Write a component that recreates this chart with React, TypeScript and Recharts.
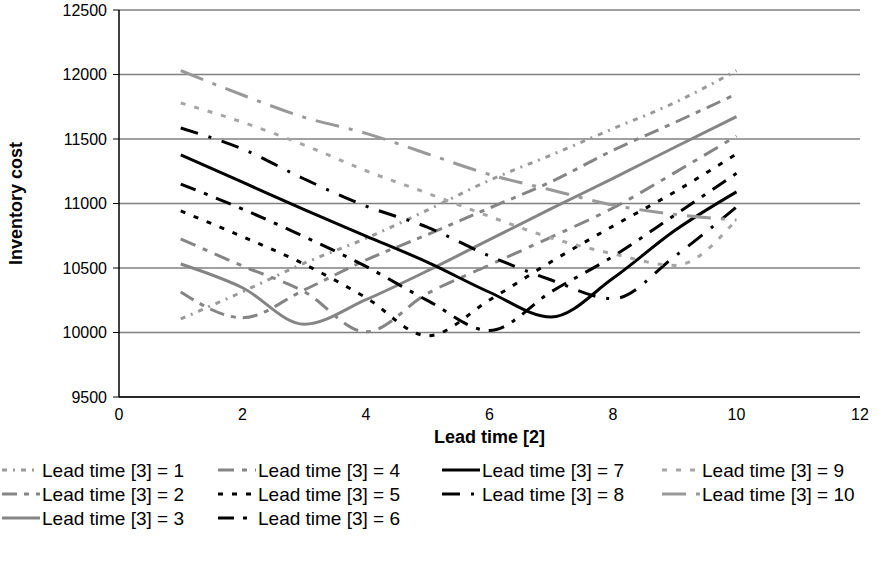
import { LineChart, Line, XAxis, YAxis, CartesianGrid, Label } from "recharts"

// Lead time [2] on the x axis
const leadTime2 = [1, 2, 3, 4, 5, 6, 7, 8, 9, 10]

// inventory cost for each Lead time [3]
const lt1 = [10105, 10316, 10538, 10730, 10950, 11180, 11376, 11580, 11782, 12030]
const lt2 = [10314, 10115, 10330, 10562, 10760, 10965, 11169, 11412, 11628, 11849]
const lt3 = [10531, 10347, 10064, 10254, 10479, 10720, 10960, 11195, 11436, 11673]
const lt4 = [10725, 10516, 10316, 10005, 10304, 10523, 10740, 10965, 11239, 11523]
const lt5 = [10942, 10743, 10530, 10270, 9975, 10252, 10549, 10825, 11090, 11384]
const lt6 = [11151, 10957, 10743, 10512, 10247, 10015, 10316, 10590, 10911, 11234]
const lt7 = [11376, 11165, 10952, 10748, 10544, 10312, 10120, 10420, 10790, 11090]
const lt8 = [11585, 11422, 11190, 10980, 10815, 10593, 10407, 10262, 10590, 10973]
const lt9 = [11779, 11630, 11453, 11254, 11079, 10900, 10733, 10610, 10520, 10875]
const lt10 = [12030, 11841, 11668, 11544, 11384, 11225, 11105, 10988, 10916, 10872]

const xTicks = [0, 2, 4, 6, 8, 10, 12]
const yTicks = [9500, 10000, 10500, 11000, 11500, 12000, 12500]

const seriesValues = [lt1, lt2, lt3, lt4, lt5, lt6, lt7, lt8, lt9, lt10]
const seriesNames = seriesValues.map((_, i) => `Lead time [3] = ${i + 1}`)

// line look per series (Excel-ish grayscale styles)
const styles = [
  { color: "#9a9a9a", dash: "5 6 2 6" },
  { color: "#858585", dash: "15 7 5 7" },
  { color: "#858585", dash: "" },
  { color: "#858585", dash: "16 8 5 8" },
  { color: "#000000", dash: "5 9" },
  { color: "#000000", dash: "16 9 4 9" },
  { color: "#000000", dash: "" },
  { color: "#000000", dash: "18 11 3 11" },
  { color: "#a6a6a6", dash: "5 9" },
  { color: "#999999", dash: "24 10 4 10" },
]

const data = leadTime2.map((x, i) => {
  const row: Record<string, number> = { x }
  seriesValues.forEach((s, k) => {
    row[`lt${k + 1}`] = s[i]
  })
  return row
})

const FONT = "'Liberation Sans', Arial, sans-serif"

// legend layout: column-major, 3 rows
const legendCols = [0, 216, 440, 660]
const legendRows = [470, 494, 518]

function LegendBlock() {
  return (
    <svg width={881} height={577} style={{ position: "absolute", left: 0, top: 0, pointerEvents: "none" }}>
      {seriesNames.map((name, i) => {
        const col = Math.floor(i / 3) < 2 ? Math.floor(i / 3) : i < 8 ? 2 : 3
        const row = i < 6 ? i % 3 : i < 8 ? i - 6 : i - 8
        const x = legendCols[col]
        const y = legendRows[row]
        const st = styles[i]
        return (
          <g key={name}>
            <line x1={x + 2} x2={x + 40} y1={y} y2={y} stroke={st.color} strokeWidth={3} strokeDasharray={st.dash || undefined} />
            <text x={x + 42} y={y} dominantBaseline="central" fontFamily={FONT} fontSize={19} fill="#000">
              {name}
            </text>
          </g>
        )
      })}
    </svg>
  )
}

export default function App() {
  return (
    <div style={{ position: "absolute", left: 0, top: 0, width: 881, height: 577, background: "#fff" }}>
      <LineChart width={881} height={577} data={data} margin={{ top: 10, right: 21, left: 0, bottom: 120 }}>
        <CartesianGrid vertical={false} stroke="#808080" strokeWidth={1.5} />
        <XAxis
          dataKey="x"
          type="number"
          domain={[0, 12]}
          ticks={xTicks}
          height={60}
          tickLine={false}
          axisLine={{ stroke: "#000", strokeWidth: 1.5 }}
          tick={{ fontSize: 16, fill: "#000", fontFamily: FONT }}
          tickMargin={6}
        >
          <Label value="Lead time [2]" position="insideBottom" offset={14} style={{ fontSize: 18, fontWeight: "bold", fill: "#000", fontFamily: FONT }} />
        </XAxis>
        <YAxis
          type="number"
          domain={[9500, 12500]}
          ticks={yTicks}
          width={119}
          tickLine={{ stroke: "#000" }}
          tickSize={6}
          axisLine={{ stroke: "#000", strokeWidth: 1.5 }}
          tick={{ fontSize: 16, fill: "#000", fontFamily: FONT }}
          tickMargin={6}
        >
          <Label value="Inventory cost" angle={-90} position="insideLeft" offset={16} style={{ fontSize: 18, fontWeight: "bold", fill: "#000", fontFamily: FONT, textAnchor: "middle" }} />
        </YAxis>
        {seriesNames.map((name, i) => (
          <Line
            key={name}
            name={name}
            dataKey={`lt${i + 1}`}
            type="monotone"
            stroke={styles[i].color}
            strokeWidth={3}
            strokeDasharray={styles[i].dash || undefined}
            dot={false}
            isAnimationActive={false}
          />
        ))}
      </LineChart>
      <LegendBlock />
    </div>
  )
}
